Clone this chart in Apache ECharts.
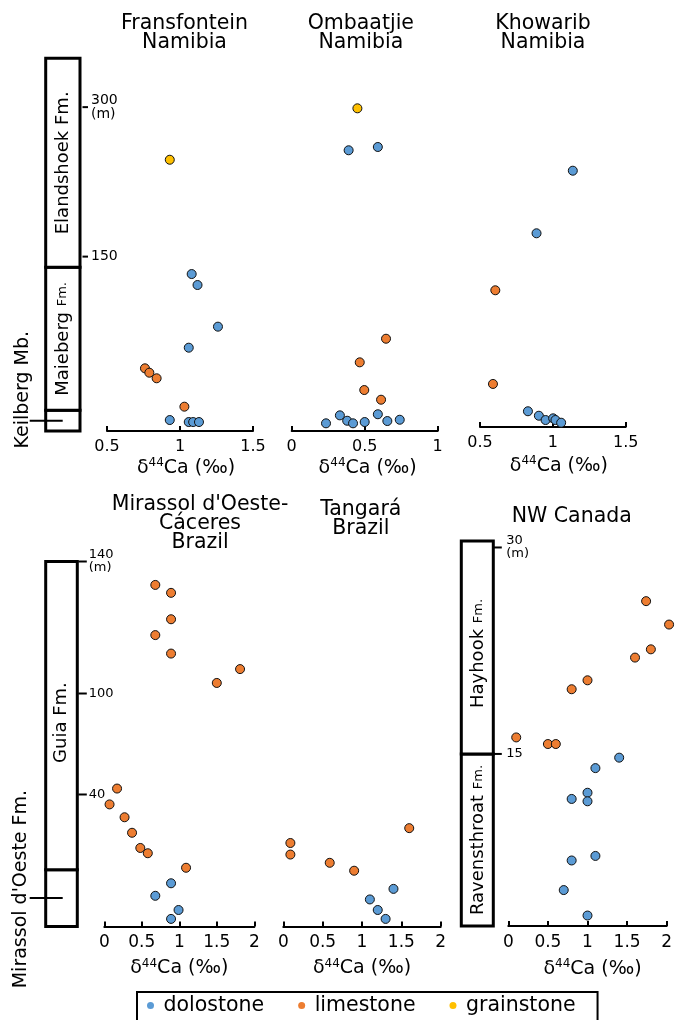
<!DOCTYPE html>
<html><head><meta charset="utf-8">
<script src="https://cdn.jsdelivr.net/npm/echarts@6/dist/echarts.min.js"></script>
<style>html,body{margin:0;padding:0;background:#fff}#c{width:678px;height:1020px}</style>
</head><body><div id="c"></div>
<script>
// ---------------- data ----------------
// Fransfontein, Namibia  (x: d44Ca permil, y: height m)
const fransDoloX = [1.08, 1.12, 1.26, 1.06, 0.93, 1.06, 1.09, 1.13];
const fransDoloY = [132.5, 121.5, 79.7, 58.6, -14, -16, -16, -16];
const fransLimeX = [0.76, 0.79, 0.84, 1.03];
const fransLimeY = [37.9, 33.5, 27.9, -0.6];
const fransGrainX = [0.93];
const fransGrainY = [247.2];
// Ombaatjie, Namibia
const ombaDoloX = [0.39, 0.59, 0.235, 0.33, 0.38, 0.42, 0.50, 0.59, 0.655, 0.74];
const ombaDoloY = [256.7, 260, -17.3, -9.3, -14.7, -17.3, -16, -8.2, -15, -13.7];
const ombaLimeX = [0.646, 0.466, 0.497, 0.612];
const ombaLimeY = [67.6, 43.9, 16.1, 6.4];
const ombaGrainX = [0.45];
const ombaGrainY = [298.8];
// Khowarib, Namibia
const khowDoloX = [1.137, 0.888, 0.829, 0.904, 0.95, 1.002, 1.018, 1.057];
const khowDoloY = [236.2, 173.4, -5.2, -9.7, -14, -12.3, -14, -16.7];
const khowLimeX = [0.605, 0.589];
const khowLimeY = [116.2, 22.2];
// Mirassol d'Oeste-Caceres, Brazil
const miraDoloX = [0.89, 0.68, 0.99, 0.89];
const miraDoloY = [13.1, 9.3, 5.0, 2.3];
const miraLimeX = [0.68, 0.89, 0.89, 0.68, 0.89, 1.81, 1.50, 0.17, 0.07, 0.27, 0.37, 0.48, 0.58, 1.09];
const miraLimeY = [132.9, 130.5, 122.5, 117.7, 112.1, 107.4, 103.2, 41.8, 37.0, 33.1, 28.4, 23.8, 22.2, 17.8];
// Tangara, Brazil
const tangDoloX = [1.40, 1.10, 1.20, 1.30];
const tangDoloY = [11.4, 8.2, 5.0, 2.3];
const tangLimeX = [0.09, 0.09, 0.59, 0.90, 1.60];
const tangLimeY = [25.3, 21.8, 19.3, 16.9, 29.8];
// NW Canada
const nwcDoloX = [1.40, 1.10, 1.00, 1.00, 0.80, 1.10, 0.80, 0.70, 1.00];
const nwcDoloY = [14.73, 13.97, 12.18, 11.56, 11.73, 7.59, 7.26, 5.11, 3.26];
const nwcLimeX = [1.74, 2.03, 1.80, 1.60, 1.00, 0.80, 0.10, 0.50, 0.60];
const nwcLimeY = [26.1, 24.4, 22.6, 22.0, 20.35, 19.7, 16.2, 15.72, 15.72];

// stratigraphic columns (unit base / top in m)
const namibiaUnits = ['Keilberg Mb.', 'Maieberg Fm.', 'Elandshoek Fm.'];
const namibiaUnitBase = [-25, -4.3, 139.2];
const namibiaUnitTop = [-4.3, 139.2, 349];
const brazilUnits = ["Mirassol d'Oeste Fm.", 'Guia Fm.'];
const brazilUnitBase = [0, 17.2];
const brazilUnitTop = [17.2, 140];
const canadaUnits = ['Ravensthroat Fm.', 'Hayhook Fm.'];
const canadaUnitBase = [2.5, 15];
const canadaUnitTop = [15, 30.47];

// height tick labels
const namibiaTicks = [150, 300];
const namibiaTickLabels = ['150', '300\n(m)'];
const brazilTicks = [40, 100, 140];
const brazilTickLabels = ['40', '100', '140\n(m)'];
const canadaTicks = [15, 30];
const canadaTickLabels = ['15', '30\n(m)'];

const legendNames = ['dolostone', 'limestone', 'grainstone'];
const panelTitles = ['Fransfontein\nNamibia', 'Ombaatjie\nNamibia', 'Khowarib\nNamibia',
  "Mirassol d'Oeste-\nCáceres\nBrazil", 'Tangará\nBrazil', 'NW Canada'];

// ---------------- styling / layout ----------------
const FONT = 'DejaVu Sans';
const COLORS = { dolostone: '#5B9BD5', limestone: '#ED7D31', grainstone: '#FFC000' };
const zip = (xs, ys) => xs.map((x, i) => [x, ys[i]]);

const chart = echarts.init(document.getElementById('c'), null, { renderer: 'canvas' });

const grids = [
  { left: 45.7, top: 58.3, width: 34.3, height: 372.7 },   // 0 namibia column
  { left: 107, top: 58.3, width: 146, height: 372.7 },     // 1 Fransfontein
  { left: 291.7, top: 58.3, width: 146, height: 372.7 },   // 2 Ombaatjie
  { left: 480, top: 58.3, width: 145.7, height: 368.7 },   // 3 Khowarib
  { left: 45.7, top: 561.5, width: 31.6, height: 365 },    // 4 brazil column
  { left: 104.3, top: 561.5, width: 150, height: 365 },    // 5 Mirassol
  { left: 283.3, top: 561.5, width: 157.4, height: 365 },  // 6 Tangara
  { left: 461.3, top: 541, width: 32, height: 385 },       // 7 canada column
  { left: 508.3, top: 541, width: 158.4, height: 385 }     // 8 NW Canada
].map(g => Object.assign({ containLabel: false, outerBoundsMode: 'none' }, g));

const nameRich = {
  d: { fontSize: 19, fontFamily: FONT, color: '#000', lineHeight: 24 },
  s: { fontSize: 12, fontFamily: FONT, color: '#000', lineHeight: 24, verticalAlign: 'top', padding: [1, 0, 0, 0] }
};
function dataXAxis(grid, min, max, fs, gap, shift) {
  return {
    gridIndex: grid, type: 'value', min: min, max: max, interval: 0.5,
    name: '{d|δ}{s|44}{d|Ca (‰)}', nameLocation: 'middle', nameGap: gap,
    nameTextStyle: { rich: nameRich, padding: [0, 0, 0, shift] },
    axisLine: { show: true, onZero: false, lineStyle: { color: '#000', width: 2 } },
    axisTick: { show: true, inside: true, length: 5, lineStyle: { color: '#000', width: 2 } },
    axisLabel: { fontSize: fs, fontFamily: FONT, color: '#000', margin: 8 },
    splitLine: { show: false }
  };
}
function hiddenXAxis(grid) {
  return { gridIndex: grid, type: 'value', min: 0, max: 1, show: false };
}
const brazilBreaks = [{ start: 44, end: 100, gap: 26.6 }];
const breakHide = { show: false, itemStyle: { opacity: 0, borderWidth: 0, color: 'rgba(0,0,0,0)', borderColor: 'rgba(0,0,0,0)' } };
function hiddenYAxis(grid, min, max, withBreak) {
  const a = { gridIndex: grid, type: 'value', min: min, max: max, show: false, splitLine: { show: false } };
  if (withBreak) { a.breaks = brazilBreaks; a.breakArea = breakHide; }
  return a;
}
function columnYAxis(grid, min, max, ticks, labels, margin, fs, withBreak) {
  const a = {
    gridIndex: grid, type: 'value', min: min, max: max, position: 'right',
    axisLine: { show: false }, splitLine: { show: false }, axisTick: { show: false },
    axisLabel: {
      show: true, customValues: ticks, margin: margin, fontSize: fs, lineHeight: fs,
      fontFamily: FONT, color: '#000',
      formatter: v => { const i = ticks.indexOf(v); return i >= 0 ? labels[i] : ''; }
    }
  };
  if (withBreak) { a.breaks = brazilBreaks; a.breakArea = breakHide; }
  return a;
}

const xAxes = [
  hiddenXAxis(0), dataXAxis(1, 0.5, 1.5, 16, 24, 12), dataXAxis(2, 0, 1, 16, 24, 6), dataXAxis(3, 0.5, 1.5, 16, 27, 12),
  hiddenXAxis(4), dataXAxis(5, 0, 2, 17, 30, 0), dataXAxis(6, 0, 2, 17, 30, 0),
  hiddenXAxis(7), dataXAxis(8, 0, 2, 17, 31, 10)
];
const yAxes = [
  columnYAxis(0, -25, 349, namibiaTicks, namibiaTickLabels, 11, 14, false),
  hiddenYAxis(1, -25, 349), hiddenYAxis(2, -25, 349), hiddenYAxis(3, -21, 349),
  columnYAxis(4, 0, 140, brazilTicks, brazilTickLabels, 11.5, 13, true),
  hiddenYAxis(5, 0, 140, true), hiddenYAxis(6, 0, 140, true),
  columnYAxis(7, 2.5, 30.47, canadaTicks, canadaTickLabels, 13, 13, false),
  hiddenYAxis(8, 2.5, 30.47)
];

// column renderer (unit boxes with rotated names, height ticks)
const smallFm = { n: { fontSize: 18, fontFamily: FONT, color: '#000' }, s: { fontSize: 13, fontFamily: FONT, color: '#000' } };
function unitText(name, small) {
  if (small && / Fm\.$/.test(name)) return '{n|' + name.replace(/ Fm\.$/, '') + ' }{s|Fm.}';
  return '{n|' + name + '}';
}
function columnSeries(grid, names, base, top, cfg, ticks, tickFrom, tickTo) {
  return {
    type: 'custom', xAxisIndex: grid, yAxisIndex: grid, silent: true, clip: false, z: 3,
    data: names.map((n, i) => [base[i], top[i]]),
    renderItem: function (params, api) {
      const i = params.dataIndex;
      const b = api.coord([0, api.value(0)]);
      const t = api.coord([1, api.value(1)]);
      const x = b[0], w = t[0] - b[0], y = t[1], h = b[1] - t[1];
      const c = cfg[i] || {};
      const kids = [{ type: 'rect', shape: { x: x, y: y, width: w, height: h },
        style: { fill: '#fff', stroke: '#000', lineWidth: 3 } }];
      const my = y + h / 2;
      if (c.outside) {
        kids.push({ type: 'line', shape: { x1: x - 16, y1: my, x2: x + 17, y2: my }, style: { stroke: '#000', lineWidth: 2 }, z2: 5 });
        kids.push({ type: 'text', x: x + c.dx, y: my + c.dy, rotation: Math.PI / 2,
          style: { text: names[i], fontSize: 19, fontFamily: FONT, fill: '#000', align: 'center', verticalAlign: 'middle' } });
      } else {
        kids.push({ type: 'text', x: x + w / 2 + (c.dx || 0), y: my + (c.dy || 0), rotation: Math.PI / 2,
          style: { text: unitText(names[i], c.small), rich: smallFm, fontSize: 18, fontFamily: FONT, fill: '#000', align: 'center', verticalAlign: 'middle' } });
      }
      if (i === 0) {
        ticks.forEach(v => {
          const p = api.coord([1, v]);
          kids.push({ type: 'line', shape: { x1: p[0] + tickFrom, y1: p[1], x2: p[0] + tickTo, y2: p[1] },
            style: { stroke: '#000', lineWidth: 2 } });
        });
      }
      return { type: 'group', children: kids };
    }
  };
}

function scatter(name, grid, xs, ys) {
  return {
    name: name, type: 'scatter', xAxisIndex: grid, yAxisIndex: grid, z: 4,
    symbol: 'circle', symbolSize: 9, clip: false,
    itemStyle: { color: COLORS[name], borderColor: '#111', borderWidth: 1, opacity: 1 },
    emphasis: { disabled: true },
    data: zip(xs, ys)
  };
}

const series = [
  columnSeries(0, namibiaUnits, namibiaUnitBase, namibiaUnitTop,
    [{ outside: true, dx: -23, dy: -31 }, { small: true }, { small: false }], namibiaTicks, 2.5, 8),
  columnSeries(4, brazilUnits, brazilUnitBase, brazilUnitTop,
    [{ outside: true, dx: -25, dy: -9 }, { small: false, dy: 7 }], brazilTicks, 1, 9.5),
  columnSeries(7, canadaUnits, canadaUnitBase, canadaUnitTop,
    [{ small: true, dx: 1 }, { small: true, dy: 6, dx: 1 }], canadaTicks, 0, 8.5),
  scatter('dolostone', 1, fransDoloX, fransDoloY),
  scatter('limestone', 1, fransLimeX, fransLimeY),
  scatter('grainstone', 1, fransGrainX, fransGrainY),
  scatter('dolostone', 2, ombaDoloX, ombaDoloY),
  scatter('limestone', 2, ombaLimeX, ombaLimeY),
  scatter('grainstone', 2, ombaGrainX, ombaGrainY),
  scatter('dolostone', 3, khowDoloX, khowDoloY),
  scatter('limestone', 3, khowLimeX, khowLimeY),
  scatter('dolostone', 5, miraDoloX, miraDoloY),
  scatter('limestone', 5, miraLimeX, miraLimeY),
  scatter('dolostone', 6, tangDoloX, tangDoloY),
  scatter('limestone', 6, tangLimeX, tangLimeY),
  scatter('dolostone', 8, nwcDoloX, nwcDoloY),
  scatter('limestone', 8, nwcLimeX, nwcLimeY)
];

const titlePos = [[184.5, 13.7], [360.8, 13.7], [543, 13.7], [200, 495.3], [360.8, 499.8], [571.7, 506.7]];
const titles = panelTitles.map((t, i) => ({
  text: t, left: titlePos[i][0], top: titlePos[i][1], textAlign: 'center', padding: 0,
  textStyle: { fontSize: 20.5, fontWeight: 'normal', fontFamily: FONT, color: '#000', lineHeight: 19 }
}));

chart.setOption({
  animation: false,
  backgroundColor: '#fff',
  textStyle: { fontFamily: FONT },
  title: titles,
  grid: grids,
  xAxis: xAxes,
  yAxis: yAxes,
  legend: {
    data: legendNames, left: 137, top: 992, orient: 'horizontal',
    padding: [3, 22, 40, 10], itemGap: 34, itemWidth: 16, itemHeight: 7,
    icon: 'circle', borderColor: '#000', borderWidth: 2, selectedMode: false,
    itemStyle: { borderWidth: 0 },
    textStyle: { fontSize: 20.5, fontFamily: FONT, color: '#000' }
  },
  series: series
});
</script></body></html>
